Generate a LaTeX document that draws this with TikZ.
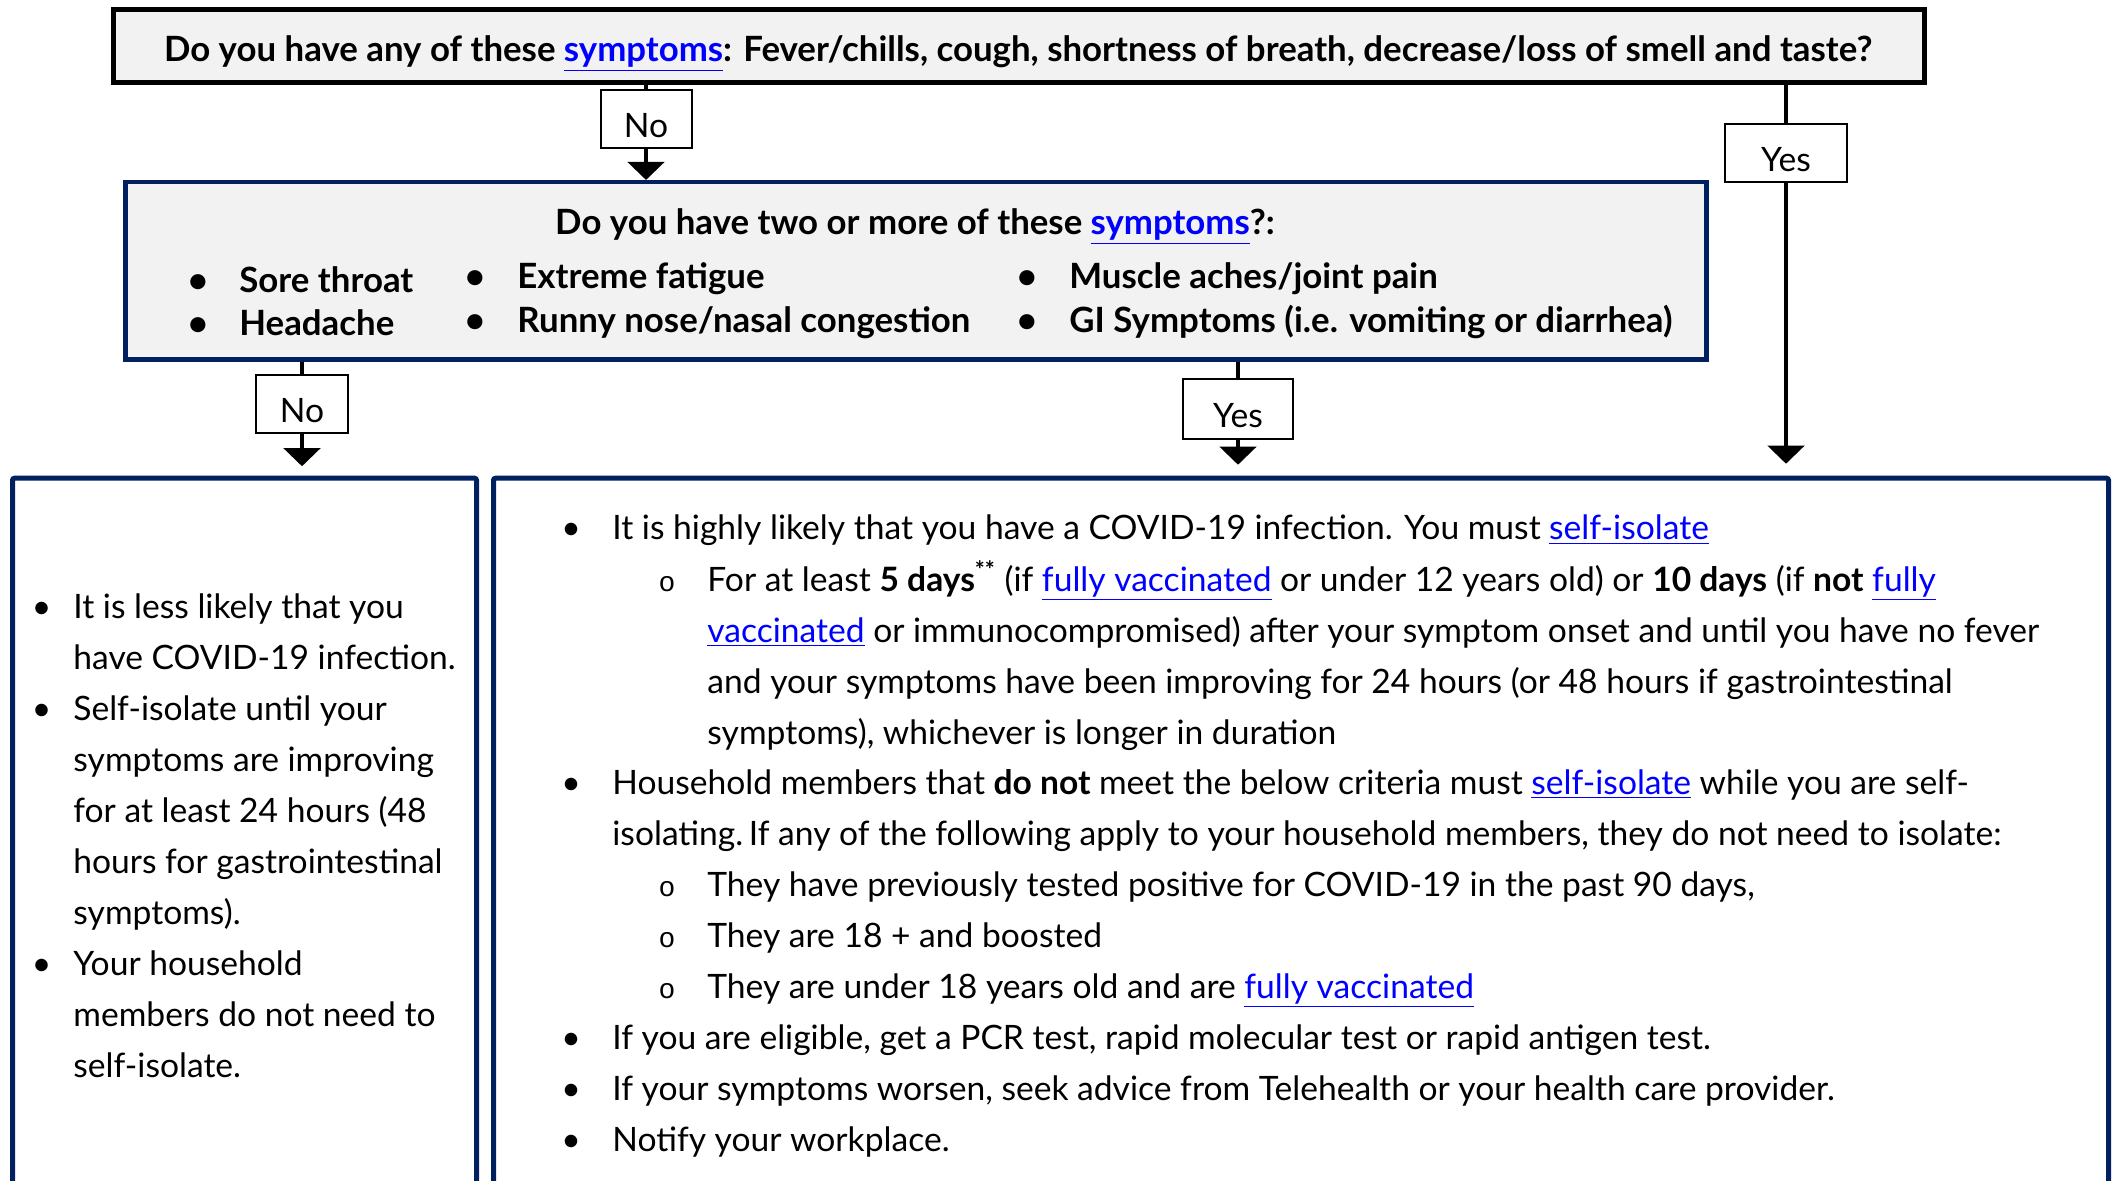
\documentclass[tikz,border=0pt]{standalone}
\usepackage{fontspec}
\setmainfont{Lato}
\newfontfamily\subfont{Liberation Mono}
\usetikzlibrary{arrows.meta}

\definecolor{navy}{RGB}{0,32,96}
\definecolor{boxgray}{RGB}{242,242,242}
\definecolor{linkblue}{RGB}{0,0,255}
\newcommand{\lnk}[1]{\textcolor{linkblue}{\underline{#1}}}
\newcommand{\bodyfont}{\fontsize{16.8}{20}\selectfont}
\newcommand{\headfont}{\fontsize{17.4}{20}\selectfont\bfseries}

\begin{document}
\begin{tikzpicture}[x=0.5pt,y=-0.5pt,
    question/.style={draw,fill=boxgray,inner sep=0pt},
    outcome/.style={draw=navy,line width=2.5pt,rounded corners=1pt,inner sep=0pt},
    answer/.style={draw,line width=1pt,fill=white,inner sep=0pt,font=\bodyfont,text height=19pt,text depth=0pt},
    link/.style={line width=2.3pt},
    conn/.style={line width=2.3pt,-{Triangle[width=18pt,length=9pt]}},
    head/.style={anchor=base,inner sep=0pt,font=\headfont,yshift=-1.5pt},
    item/.style={anchor=base west,inner sep=0pt,font=\headfont,yshift=-1.5pt},
    txt/.style={anchor=base west,inner sep=0pt,font=\bodyfont,yshift=-1.5pt},
    dot/.style={anchor=base,inner sep=0pt,font=\bodyfont,yshift=-1.5pt},
    subdot/.style={anchor=base,inner sep=0pt,font=\subfont\fontsize{14}{16}\selectfont,yshift=-1.5pt}]

  \clip (0,0) rectangle (2114,1181);

  % boxes
  \node[question,line width=2.5pt,minimum width=905.5pt,minimum height=36.5pt] (q1) at (1019,46) {};
  \node[question,draw=navy,line width=2.25pt,minimum width=790.5pt,minimum height=88.75pt] (q2) at (916,271) {};
  \node[outcome,minimum width=232pt,minimum height=410.75pt] (lbox) at (244.5,889) {};
  \node[outcome,minimum width=807.5pt,minimum height=410.75pt] (rbox) at (1301,889) {};

  % answers
  \node[answer,minimum width=45.5pt,minimum height=29pt] (no1) at (646,119) {No};
  \node[answer,minimum width=61pt,minimum height=29pt] (yes1) at (1786,153) {Yes};
  \node[answer,minimum width=46pt,minimum height=29pt] (no2) at (302,404) {No};
  \node[answer,minimum width=55pt,minimum height=30pt] (yes2) at (1238,409) {Yes};

  \draw[link] (q1.south -| no1) -- (no1.north);
  \draw[conn] (no1.south) -- (q2.north -| no1);
  \draw[link] (q1.south -| yes1) -- (yes1.north);
  \draw[conn,shorten >=6pt] (yes1.south) -- (rbox.north -| yes1);
  \draw[link] (q2.south -| no2) -- (no2.north);
  \draw[conn,shorten >=4.75pt] (no2.south) -- (lbox.north -| no2);
  \draw[link] (q2.south -| yes2) -- (yes2.north);
  \draw[conn,shorten >=5.5pt] (yes2.south) -- (rbox.north -| yes2);

  % questions
  \node[head] (t1) at (1018,59) {Do you have any of these \lnk{symptoms}: Fever/chills, cough, shortness of breath, decrease/loss of smell and taste?};
  \node[head] (t2) at (915,232) {Do you have two or more of these \lnk{symptoms}?:};
  \node[head] (b1) at (198,290) {\textbullet};
  \node[head] (b2) at (198,333) {\textbullet};
  \node[head] (b3) at (475,286) {\textbullet};
  \node[head] (b4) at (475,330) {\textbullet};
  \node[head] (b5) at (1027,286) {\textbullet};
  \node[head] (b6) at (1027,330) {\textbullet};
  \node[item] (s1) at (239,290) {Sore throat};
  \node[item] (s2) at (239,333) {Headache};
  \node[item] (s3) at (517,286) {Extreme fatigue};
  \node[item] (s4) at (517,330) {Runny nose/nasal congestion};
  \node[item] (s5) at (1069,286) {Muscle aches/joint pain};
  \node[item] (s6) at (1069,330) {GI Symptoms (i.e. vomiting or diarrhea)};

  % left outcome
  \foreach \y/\n in {615/1,717/2,972/3}
    \node[dot] (ld\n) at (41.5,\y) {\textbullet};
  \node[txt] (l1) at (73,615) {It is less likely that you};
  \node[txt] (l2) at (73,666) {have COVID-19 infection.};
  \node[txt] (l3) at (73,717) {Self-isolate until your};
  \node[txt] (l4) at (73,768) {symptoms are improving};
  \node[txt] (l5) at (73,819) {for at least 24 hours (48};
  \node[txt] (l6) at (73,870) {hours for gastrointestinal};
  \node[txt] (l7) at (73,921) {symptoms).};
  \node[txt] (l8) at (73,972) {Your household};
  \node[txt] (l9) at (73,1023) {members do not need to};
  \node[txt] (l10) at (73,1074) {self-isolate.};

  % right outcome
  \foreach \y/\n in {537/1,791/2,1046/3,1097/4,1148/5}
    \node[dot] (rd\n) at (571,\y) {\textbullet};
  \foreach \y/\n in {588/1,893/2,944/3,995/4}
    \node[subdot] (rs\n) at (667,\y) {o};
  \node[txt] (r1) at (612,537) {It is highly likely that you have a COVID-19 infection. You must \lnk{self-isolate}};
  \node[txt] (r2) at (707,588) {For at least \textbf{5 days\textsuperscript{**}} (if \lnk{fully vaccinated} or under 12 years old) or \textbf{10 days} (if \textbf{not} \lnk{fully}};
  \node[txt] (r3) at (707,639) {\lnk{vaccinated} or immunocompromised) after your symptom onset and until you have no fever};
  \node[txt] (r4) at (707,690) {and your symptoms have been improving for 24 hours (or 48 hours if gastrointestinal};
  \node[txt] (r5) at (707,741) {symptoms), whichever is longer in duration};
  \node[txt] (r6) at (612,791) {Household members that \textbf{do not} meet the below criteria must \lnk{self-isolate} while you are self-};
  \node[txt] (r7) at (612,842) {isolating.\,If any of the following apply to your household members, they do not need to isolate:};
  \node[txt] (r8) at (707,893) {They have previously tested positive for COVID-19 in the past 90 days,};
  \node[txt] (r9) at (707,944) {They are 18 + and boosted};
  \node[txt] (r10) at (707,995) {They are under 18 years old and are \lnk{fully vaccinated}};
  \node[txt] (r11) at (612,1046) {If you are eligible, get a PCR test, rapid molecular test or rapid antigen test.};
  \node[txt] (r12) at (612,1097) {If your symptoms worsen, seek advice from Telehealth or your health care provider.};
  \node[txt] (r13) at (612,1148) {Notify your workplace.};
\end{tikzpicture}
\end{document}
